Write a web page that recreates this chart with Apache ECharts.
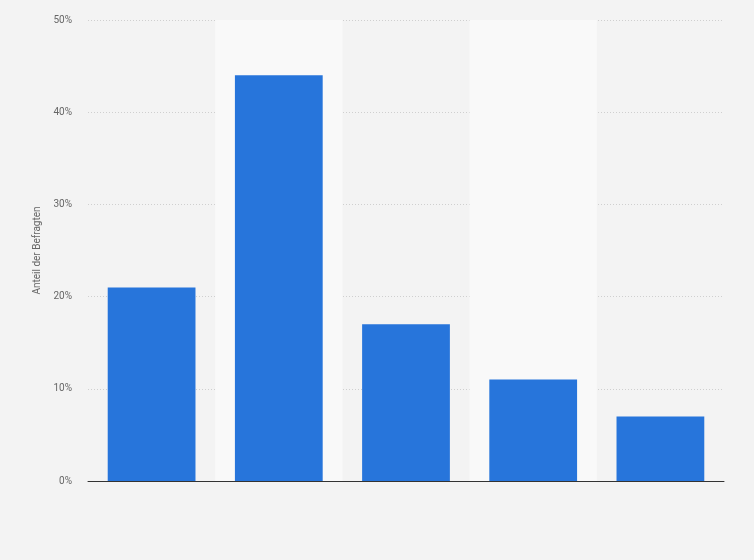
<!DOCTYPE html>
<html>
<head>
<meta charset="utf-8">
<script src="https://cdn.jsdelivr.net/npm/echarts@6/dist/echarts.min.js"></script>
<style>
  html, body { margin: 0; padding: 0; background: #f3f3f3; }
  #chart { width: 754px; height: 560px; }
</style>
</head>
<body>
<div id="chart"></div>
<script>
var categories = ['A', 'B', 'C', 'D', 'E'];
var values = [21, 44, 17, 11, 7];
var yTicks = [0, 10, 20, 30, 40, 50];

var myChart = echarts.init(document.getElementById('chart'));

var option = {
    backgroundColor: '#f3f3f3',
    animation: false,
    grid: {
        left: 88,
        right: 30,
        top: 20,
        bottom: 79
    },
    xAxis: {
        type: 'category',
        data: categories,
        axisLine: { show: true, lineStyle: { color: '#333', width: 1 } },
        axisTick: { show: false },
        axisLabel: { show: false },
        splitArea: {
            show: true,
            areaStyle: { color: ['rgba(0,0,0,0)', '#f9f9f9'] }
        }
    },
    yAxis: {
        type: 'value',
        min: yTicks[0],
        max: yTicks[yTicks.length - 1],
        interval: 10,
        name: 'Anteil der Befragten',
        nameLocation: 'middle',
        nameGap: 42,
        nameTextStyle: { color: '#666', fontSize: 10, fontFamily: 'Roboto' },
        axisLine: { show: false },
        axisTick: { show: false },
        axisLabel: {
            color: '#666',
            fontSize: 10,
            fontFamily: 'Roboto',
            margin: 16,
            formatter: '{value}%'
        },
        splitLine: {
            show: true,
            lineStyle: { color: '#cfcfcf', type: [1, 2], width: 1 }
        }
    },
    series: [{
        type: 'bar',
        data: values,
        barCategoryGap: '31%',
        itemStyle: { color: '#2775db' }
    }]
};

myChart.setOption(option);
</script>
</body>
</html>
